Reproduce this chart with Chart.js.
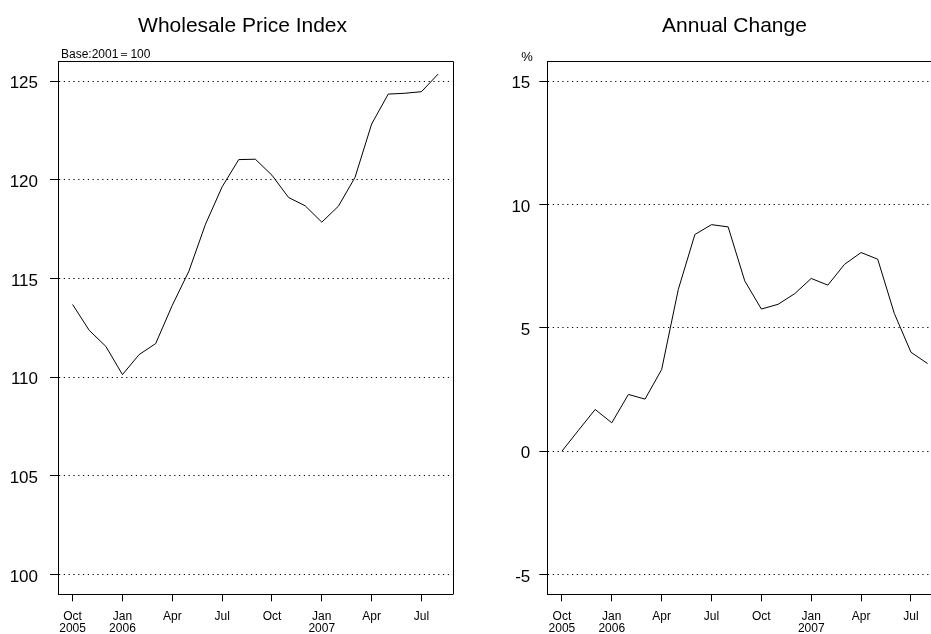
<!DOCTYPE html>
<html>
<head>
<meta charset="utf-8">
<script src="https://cdn.jsdelivr.net/npm/chart.js@4.4.1/dist/chart.umd.min.js"></script>
<style>
  html, body { margin:0; padding:0; width:931px; height:634px; overflow:hidden; background:#fff; }
  canvas { position:absolute; top:0; }
  #c1 { left:0; }
  #c2 { left:470px; }
</style>
</head>
<body>
<canvas id="c1" width="470" height="634"></canvas>
<canvas id="c2" width="490" height="634"></canvas>
<script>
// ---- Data ----
const months = ["2005-10","2005-11","2005-12","2006-01","2006-02","2006-03","2006-04","2006-05","2006-06",
  "2006-07","2006-08","2006-09","2006-10","2006-11","2006-12","2007-01","2007-02","2007-03","2007-04",
  "2007-05","2007-06","2007-07","2007-08"];
const wpi = [113.68,112.37,111.56,110.13,111.14,111.70,113.64,115.37,117.75,119.64,121.02,121.04,
  120.23,119.10,118.68,117.85,118.66,120.12,122.82,124.34,124.38,124.46,125.35];
const annualChange = [0.00,0.85,1.69,1.15,2.30,2.11,3.31,6.55,8.78,9.18,9.09,6.90,5.76,5.95,6.38,
  7.00,6.73,7.57,8.05,7.78,5.58,4.01,3.55];
const tickMonths = ["2005-10","2006-01","2006-04","2006-07","2006-10","2007-01","2007-04","2007-07"];
const tickLabels = [["Oct","2005"],["Jan","2006"],"Apr","Jul","Oct",["Jan","2007"],"Apr","Jul"];
const wpiTicks = [100,105,110,115,120,125];
const changeTicks = [-5,0,5,10,15];
const titles = ["Wholesale Price Index","Annual Change"];
const notes = ["Base:2001\uFF1D100","%"];

const FONT = "'Liberation Sans', Arial, Helvetica, sans-serif";

const framePlugin = {
  id: 'frame',
  afterLayout(chart, args, opts) {
    const tb = chart.titleBlock;
    if (tb && opts && opts.titleShift) { tb.left += opts.titleShift; tb.right += opts.titleShift; }
  },
  afterDraw(chart) {
    const a = chart.chartArea, ctx = chart.ctx;
    ctx.save();
    ctx.strokeStyle = '#000';
    ctx.lineWidth = 1;
    ctx.beginPath();
    const t = Math.round(a.top) + 0.5, r = Math.round(a.right) + 0.5;
    ctx.moveTo(Math.round(a.left), t);
    ctx.lineTo(r, t);
    ctx.lineTo(r, Math.round(a.bottom) + 0.5);
    ctx.stroke();
    ctx.restore();
  }
};

const notePlugin = {
  id: 'note',
  afterDraw(chart, args, opts) {
    if (!opts || !opts.text) return;
    const a = chart.chartArea, ctx = chart.ctx;
    ctx.save();
    ctx.fillStyle = '#000';
    ctx.font = opts.size + 'px ' + FONT;
    ctx.textBaseline = 'alphabetic';
    ctx.textAlign = 'left';
    ctx.fillText(opts.text, a.left + opts.dx, a.top + opts.dy);
    ctx.restore();
  }
};

function makeChart(id, values, yTicks, yMin, yMax, title, note, pad, yWidth, yPad, titleShift) {
  const xTickVals = tickMonths.map(m => months.indexOf(m));
  return new Chart(document.getElementById(id), {
    type: 'line',
    data: {
      datasets: [{
        data: months.map((m, i) => ({x: i, y: values[i]})),
        borderColor: '#000',
        borderWidth: 1,
        pointRadius: 0,
        tension: 0,
        fill: false
      }]
    },
    plugins: [framePlugin, notePlugin],
    options: {
      responsive: false,
      animation: false,
      devicePixelRatio: 1,
      layout: { padding: pad },
      plugins: {
        legend: { display: false },
        tooltip: { enabled: false },
        title: {
          display: true,
          text: title,
          color: '#000',
          font: { family: FONT, size: 21, weight: 'normal', lineHeight: 1.2 },
          padding: { top: 14, bottom: 22.1 }
        },
        frame: { titleShift: titleShift },
        note: note
      },
      scales: {
        x: {
          type: 'linear',
          min: -0.88,
          max: months.length - 1 + 0.88,
          afterBuildTicks: s => { s.ticks = xTickVals.map(v => ({value: v})); },
          afterFit: s => { s.height = 39.7; },
          ticks: {
            autoSkip: false,
            maxRotation: 0,
            color: '#000',
            padding: 9,
            font: { family: FONT, size: 12, lineHeight: 1.0 },
            callback: (v) => tickLabels[xTickVals.indexOf(v)]
          },
          grid: { drawOnChartArea: false, drawTicks: true, tickLength: 7, color: '#000', tickColor: '#000' },
          border: { display: true, color: '#000', width: 1 }
        },
        y: {
          type: 'linear',
          min: yMin,
          max: yMax,
          afterBuildTicks: s => { s.ticks = yTicks.map(v => ({value: v})); },
          afterFit: s => { s.width = yWidth; },
          ticks: {
            color: '#000',
            padding: yPad,
            labelOffset: 2.5,
            font: { family: FONT, size: 17 }
          },
          grid: { drawOnChartArea: true, drawTicks: true, tickLength: 8, color: '#000', tickColor: '#000', tickBorderDash: [] },
          border: { display: true, color: '#000', width: 1, dash: [1.2, 3.6] }
        }
      }
    }
  });
}

makeChart('c1', wpi, wpiTicks, 99, 126, titles[0],
  { text: notes[0], size: 12, dx: 3, dy: -3.3 },
  { left: 0, right: 17.3, top: 0, bottom: 0 }, 58, 12, 16.2);
makeChart('c2', annualChange, changeTicks, -5.8, 15.8, titles[1],
  { text: notes[1], size: 13, dx: -26, dy: -0.5 },
  { left: 0, right: 17.8, top: 0, bottom: 0 }, 77.3, 9, 28.4);
</script>
</body>
</html>
